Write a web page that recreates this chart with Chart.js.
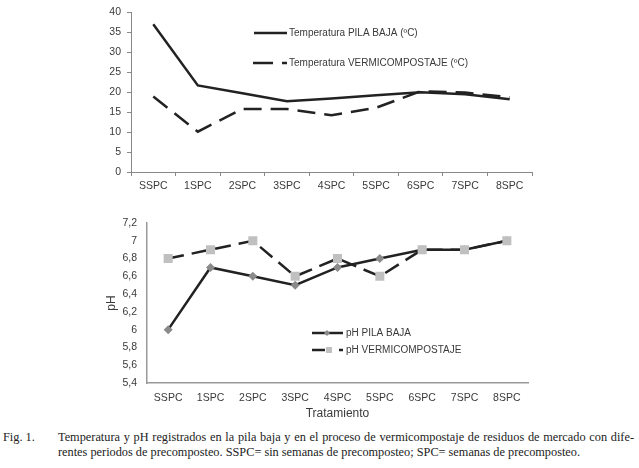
<!DOCTYPE html>
<html>
<head>
<meta charset="utf-8">
<script src="https://cdn.jsdelivr.net/npm/chart.js@4.4.1/dist/chart.umd.min.js"></script>
<style>
  html, body { margin: 0; padding: 0; background: #fff; }
  body { width: 639px; height: 468px; position: relative; overflow: hidden; }
  #c1 { position: absolute; left: 0; top: 0; }
  #c2 { position: absolute; left: 0; top: 196px; }
  #cap { position: absolute; left: 0; top: 430px; width: 639px; font-family: "Liberation Serif", "Times New Roman", serif; font-size: 12.3px; line-height: 15px; color: #222; }
  #cap .fig { position: absolute; left: 3px; top: 0; white-space: nowrap; }
  #cap .l1 { position: absolute; left: 58px; top: 0; width: 576px; text-align: justify; text-align-last: justify; white-space: nowrap; }
  #cap .l2 { position: absolute; left: 58px; top: 15px; white-space: nowrap; }
</style>
</head>
<body>
<canvas id="c1" width="639" height="196"></canvas>
<canvas id="c2" width="639" height="229"></canvas>
<div id="cap"><span class="fig">Fig. 1.</span><div class="l1">Temperatura y pH registrados en la pila baja y en el proceso de vermicompostaje de residuos de mercado con dife-</div><div class="l2">rentes periodos de precomposteo. SSPC= sin semanas de precomposteo; SPC= semanas de precomposteo.</div></div>
<script>
const categories = ["SSPC", "1SPC", "2SPC", "3SPC", "4SPC", "5SPC", "6SPC", "7SPC", "8SPC"];
const tempPilaBaja = [37, 21.7, 19.7, 17.7, 18.4, 19.2, 20.0, 19.5, 18.2];
const tempVermi = [18.9, 10.1, 15.8, 15.8, 14.2, 16.1, 20.2, 19.9, 18.7];
const tempTicks = [0, 5, 10, 15, 20, 25, 30, 35, 40];
const phPilaBaja = [6.0, 6.7, 6.6, 6.5, 6.7, 6.8, 6.9, 6.9, 7.0];
const phVermi = [6.8, 6.9, 7.0, 6.6, 6.8, 6.6, 6.9, 6.9, 7.0];
const phTicks = ["5,4", "5,6", "5,8", "6", "6,2", "6,4", "6,6", "6,8", "7", "7,2"];
const legendTemp = ["Temperatura PILA BAJA (ºC)", "Temperatura VERMICOMPOSTAJE (ºC)"];
const legendPh = ["pH PILA BAJA", "pH VERMICOMPOSTAJE"];
const xTitle = "Tratamiento";
const yTitlePh = "pH";

const FONT = "'Liberation Sans', Arial, sans-serif";
const tickFont = { family: FONT, size: 10.5 };
const textColor = '#3a3a3a';
const lineColor = '#222';

const legendTop = {
  id: 'legendTop',
  afterDatasetsDraw(chart) {
    const ctx = chart.ctx;
    ctx.save();
    ctx.font = '10px ' + FONT;
    ctx.fillStyle = textColor;
    ctx.textBaseline = 'middle';
    ctx.strokeStyle = lineColor;
    ctx.lineWidth = 2.5;
    ctx.beginPath(); ctx.moveTo(254, 33); ctx.lineTo(287, 33); ctx.stroke();
    ctx.fillText(legendTemp[0], 289, 33);
    ctx.beginPath(); ctx.moveTo(253, 63); ctx.lineTo(273, 63); ctx.moveTo(282, 63); ctx.lineTo(287, 63); ctx.stroke();
    ctx.fillText(legendTemp[1], 289, 63);
    ctx.restore();
  }
};

const legendBottom = {
  id: 'legendBottom',
  afterDatasetsDraw(chart) {
    const ctx = chart.ctx;
    ctx.save();
    ctx.font = '10px ' + FONT;
    ctx.fillStyle = textColor;
    ctx.textBaseline = 'middle';
    ctx.strokeStyle = lineColor;
    ctx.lineWidth = 2.5;
    const y1 = 333 - 196, y2 = 350 - 196;
    ctx.beginPath(); ctx.moveTo(312, y1); ctx.lineTo(343, y1); ctx.stroke();
    ctx.fillStyle = '#8a8a8a';
    ctx.beginPath(); ctx.moveTo(327, y1 - 3); ctx.lineTo(330, y1); ctx.lineTo(327, y1 + 3); ctx.lineTo(324, y1); ctx.closePath(); ctx.fill();
    ctx.beginPath(); ctx.moveTo(312, y2); ctx.lineTo(325, y2); ctx.moveTo(339, y2); ctx.lineTo(343, y2); ctx.stroke();
    ctx.fillStyle = '#c0c0c0';
    ctx.fillRect(326, y2 - 3, 6, 6);
    ctx.fillStyle = textColor;
    ctx.fillText(legendPh[0], 346, y1);
    ctx.fillText(legendPh[1], 346, y2);
    ctx.restore();
  }
};

new Chart(document.getElementById('c1'), {
  type: 'line',
  data: {
    labels: categories,
    datasets: [
      { label: legendTemp[0], data: tempPilaBaja, borderColor: lineColor, borderWidth: 2.5, pointRadius: 0, tension: 0, fill: false },
      { label: legendTemp[1], data: tempVermi, borderColor: lineColor, borderWidth: 2.5, borderDash: [18, 9], pointRadius: 0, tension: 0, fill: false }
    ]
  },
  options: {
    responsive: false,
    animation: false,
    layout: { padding: { top: 7, right: 107, left: 0, bottom: 0 } },
    plugins: { legend: { display: false }, tooltip: { enabled: false } },
    scales: {
      x: {
        offset: true,
        grid: { offset: true, drawOnChartArea: false, drawTicks: true, tickLength: 4, color: '#888' },
        border: { color: '#888', width: 1 },
        ticks: { font: tickFont, color: textColor, padding: 4, maxRotation: 0, autoSkip: false },
        afterFit(s) { s.height = 24; }
      },
      y: {
        min: 0, max: 40,
        afterBuildTicks(s) { s.ticks = tempTicks.map(v => ({ value: v })); },
        grid: { drawOnChartArea: false, drawTicks: true, tickLength: 4, color: '#888' },
        border: { color: '#888', width: 1 },
        ticks: { font: tickFont, color: textColor, padding: 6 },
        afterFit(s) { s.width = 131; }
      }
    }
  },
  plugins: [legendTop]
});

new Chart(document.getElementById('c2'), {
  type: 'line',
  data: {
    labels: categories,
    datasets: [
      { label: legendPh[1], data: phVermi, borderColor: lineColor, borderWidth: 2.5, borderDash: [16, 8],
        pointStyle: 'rect', pointRadius: 6.4, pointBackgroundColor: '#c0c0c0', pointBorderWidth: 0, pointBorderColor: '#c0c0c0', tension: 0, fill: false, order: 1 },
      { label: legendPh[0], data: phPilaBaja, borderColor: lineColor, borderWidth: 2.5,
        pointStyle: 'rectRot', pointRadius: 4.5, pointBackgroundColor: '#8a8a8a', pointBorderWidth: 0, pointBorderColor: '#8a8a8a', tension: 0, fill: false, order: 2 }
    ]
  },
  options: {
    responsive: false,
    animation: false,
    layout: { padding: { top: 27, right: 111, left: 100, bottom: 0 } },
    plugins: { legend: { display: false }, tooltip: { enabled: false } },
    scales: {
      x: {
        offset: true,
        grid: { offset: true, drawOnChartArea: false, drawTicks: false, color: '#999' },
        border: { color: '#999', width: 1.5 },
        ticks: { font: tickFont, color: textColor, padding: 9, maxRotation: 0, autoSkip: false },
        title: { display: true, text: xTitle, font: { family: FONT, size: 12 }, color: textColor, padding: { top: 4, bottom: 4 } },
        afterFit(s) { s.height = 42; }
      },
      y: {
        min: 5.4, max: 7.2,
        ticks: { font: tickFont, color: textColor, padding: 10, stepSize: 0.2, callback: (v, i) => phTicks[i] },
        grid: { drawOnChartArea: false, drawTicks: false, color: '#999' },
        border: { color: '#999', width: 1.5 },
        title: { display: true, text: yTitlePh, font: { family: FONT, size: 12 }, color: textColor, padding: { top: 4, bottom: 4 } },
        afterFit(s) { s.width = 47; }
      }
    }
  },
  plugins: [legendBottom]
});
</script>
</body>
</html>
